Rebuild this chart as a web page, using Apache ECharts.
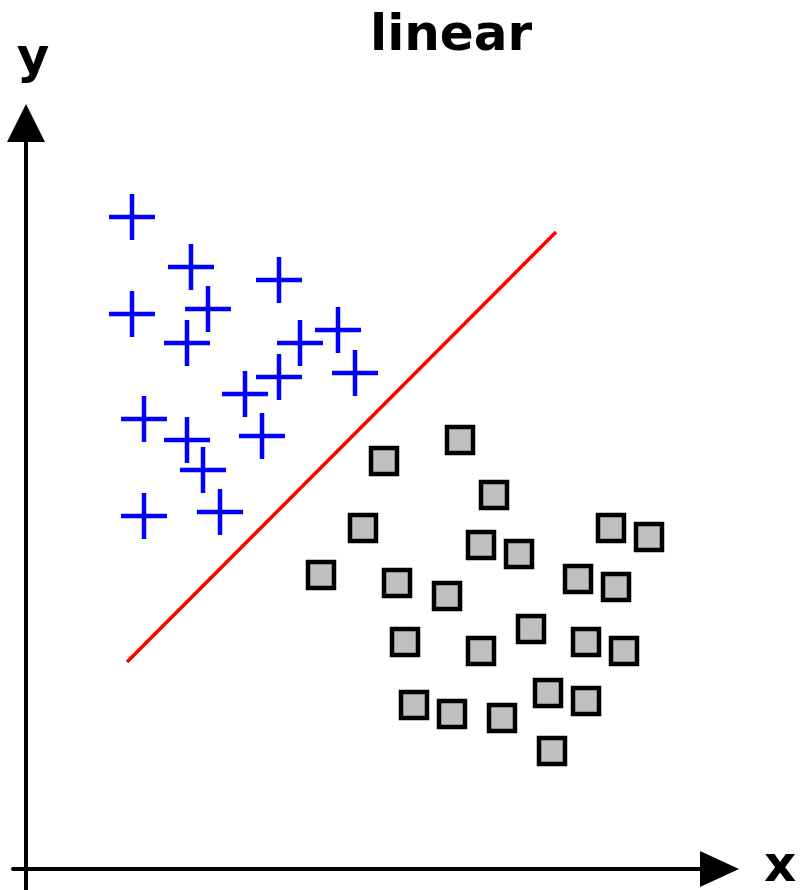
<!DOCTYPE html>
<html>
<head>
<meta charset="utf-8">
<title>linear</title>
<script src="https://cdn.jsdelivr.net/npm/echarts@6/dist/echarts.min.js"></script>
<style>
  html, body { margin: 0; padding: 0; background: #fff; }
  #chart { width: 800px; height: 890px; }
</style>
</head>
<body>
<div id="chart"></div>
<script>
// class A (blue crosses)
const crossX = [10.6, 16.5, 25.3, 10.6, 18.2, 16.1, 27.4, 31.2, 25.3, 32.9, 21.9, 11.8, 16.1, 23.6, 17.7, 11.8, 19.4]
const crossY = [65.2, 60.2, 58.9, 55.5, 56.0, 52.6, 52.6, 53.9, 49.2, 49.6, 47.5, 45.0, 42.9, 43.3, 39.9, 35.3, 35.7]

// class B (grey squares)
const squareX = [43.4, 35.8, 46.8, 33.7, 58.5, 62.3, 45.5, 49.3, 29.5, 37.1, 42.1, 55.2,
  59.0, 37.9, 45.5, 50.5, 56.0, 59.8, 38.8, 42.6, 47.6, 52.2, 56.0, 52.6]
const squareY = [42.9, 40.8, 37.4, 34.1, 34.1, 33.2, 32.4, 31.5, 29.4, 28.6, 27.3, 29.0,
  28.2, 22.7, 21.8, 24.0, 22.7, 21.8, 16.4, 15.5, 15.1, 17.6, 16.8, 11.8]

// linear decision boundary
const boundaryX = [10.1, 53.0]
const boundaryY = [20.7, 63.7]

const zip = (xs, ys) => xs.map((x, i) => [x, ys[i]])

const plusPath = 'path://M-2.25,-23H2.25V-2.25H23V2.25H2.25V23H-2.25V2.25H-23V-2.25H-2.25Z'
const font = 'DejaVu Sans'
const labelStyle = { fontFamily: font, fontWeight: 'bold', fontSize: 50, color: '#000' }

const chart = echarts.init(document.getElementById('chart'))
chart.setOption({
  animation: false,
  backgroundColor: '#fff',
  title: {
    text: 'linear',
    left: 370,
    top: 12,
    padding: 0,
    textStyle: labelStyle
  },
  // x axis name, placed by hand so it sits on the axis line
  graphic: [
    {
      type: 'text',
      left: 764,
      top: 843,
      style: {
        text: 'x',
        font: 'bold 50px "DejaVu Sans"',
        fill: '#000'
      }
    }
  ],
  grid: { left: 13, right: 80.5, top: 123, bottom: 0 },
  xAxis: {
    type: 'value',
    min: -1.3,
    max: 69.35,
    axisLine: {
      onZero: true,
      symbol: ['none', 'triangle'],
      symbolSize: [36, 39],
      lineStyle: { color: '#000', width: 4 }
    },
    axisTick: { show: false },
    axisLabel: { show: false },
    splitLine: { show: false }
  },
  yAxis: {
    type: 'value',
    min: -2.1,
    max: 74.6,
    name: 'y',
    nameLocation: 'end',
    nameGap: 38,
    nameTextStyle: Object.assign({}, labelStyle, { padding: [0, 0, 0, 14] }),
    axisLine: {
      onZero: true,
      symbol: ['none', 'triangle'],
      symbolSize: [38, 38],
      lineStyle: { color: '#000', width: 4 }
    },
    axisTick: { show: false },
    axisLabel: { show: false },
    splitLine: { show: false }
  },
  series: [
    {
      type: 'line',
      data: zip(boundaryX, boundaryY),
      symbol: 'none',
      lineStyle: { color: '#ff0000', width: 3.5 },
      z: 1
    },
    {
      type: 'scatter',
      data: zip(crossX, crossY),
      symbol: plusPath,
      symbolSize: 46,
      itemStyle: { color: '#0000ff', opacity: 1 },
      z: 2
    },
    {
      type: 'scatter',
      data: zip(squareX, squareY),
      symbol: 'rect',
      symbolSize: 26,
      itemStyle: { color: '#c0c0c0', borderColor: '#000', borderWidth: 4.5, opacity: 1 },
      z: 3
    }
  ]
})
</script>
</body>
</html>
